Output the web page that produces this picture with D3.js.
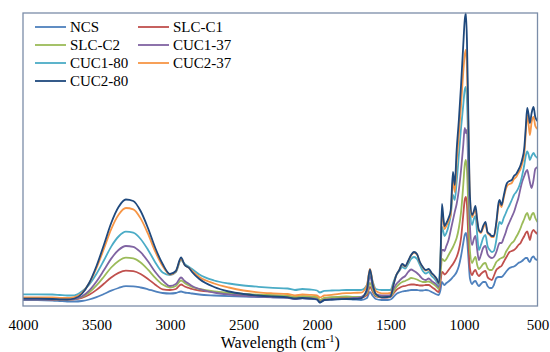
<!DOCTYPE html>
<html><head><meta charset="utf-8">
<script src="https://cdn.jsdelivr.net/npm/d3@7"></script>
<style>body{margin:0;background:#fff}svg{display:block}
svg text{font-family:"Liberation Serif","Times New Roman","DejaVu Serif",serif !important;}</style>
</head><body><svg id="c" width="550" height="352"></svg>
<script>
// Wavenumbers (cm-1), high to low
const wavenumbers = [
 4000,3900,3800,3750,3700,3650,3600,3550,3500,3450,3400,3350,3300,3250,3200,3150,3100,3050,3000,2960,2925,2900,2870,2850,2800,
 2700,2600,2500,2400,2300,2200,2150,2100,2050,2000,1980,1950,1900,1850,1800,
 1750,1700,1660,1640,1620,1600,1560,1520,1500,1480,1460,1440,1420,1400,1380,1360,1340,1320,1300,1280,1260,1240,1220,1200,1185,1172,
 1160,1150,1140,1133,1120,1105,1090,1075,1063,1050,1035,1020,1005,995,987,980,970,960,945,935,922,910,899,885,870,854,840,825,810,797,
 780,765,758,745,730,715,707,690,675,660,645,630,615,605,590,580,570,560,552,540,527,515,500
];
const seriesNames = ["NCS","SLC-C1","SLC-C2","CUC1-37","CUC1-80","CUC2-37","CUC2-80"];
// Intensities (a.u.)
const NCS = [
 6,6,5.5,5,4.5,4.5,5,6.5,8.8,12,15.3,18,19.8,19.7,18.5,16.7,14.7,13,12.5,13,14.5,13.5,13,12.5,11.5,
 10.5,9.8,9.3,9,8.6,8.3,7,7.8,7.5,6.5,3.5,6,6.5,6.7,7,
 6.5,6,8,14,10,7,6,6,6.5,9,12,13.5,14.5,15,15.5,16,16,16,15.5,15.5,16,15.5,14,12.5,11.5,11,
 16,24,22,21,23,24.5,26.5,29,31,34,40,50,63,71,73,68,48,28,22,24,25,22,20,22,24,24,20,18,18,21,
 28,29,29,29,31,34,35.5,38,39,39.5,41,43,44,45,47,48,48,45,44,48,49.5,47,46
];
const SLC_C1 = [
 6.7,6.7,6.5,6.5,6.5,6.7,8.1,11.2,16.1,22.2,28.5,33.1,35.3,34.8,32,27.1,21.3,16.7,16,17,21.5,19.5,18,17,15.5,
 14,12.7,11.7,11,10.4,10,8.7,9.4,9.1,8.4,5.5,7.8,8.4,8.8,9,
 8.5,8.5,11,19,14,9.5,8.5,8.5,9,12.5,16,18,19.5,20,21,21.5,21.5,21,20.5,20.5,21,21,19,17,15,14,
 24,34,33,31.5,33,36,39,42,45,49,56,68,91,106,109,101,66,38,31,34,36,32,30,32,34,35,29,27,26,30,
 36,38,39,40,44,48,50,54,55,56,58,61,63,66,70,73,74.5,70,66,73,76,74,72
];
const SLC_C2 = [
 7,7,6.8,6.7,6.7,7,9,13.5,20.6,29.3,38.5,45.1,48.3,47.6,43.5,36.4,28.1,21.4,18.5,20,25.5,23,20.5,19,17,
 14.5,13,12,11.3,10.8,10.4,9,9.8,9.5,8.8,6,8.2,8.8,9.2,9.5,
 9,9,13,23,16,10.5,9,9,9.5,14,19,22,24,25,26.5,28,27.5,26.5,25,24,24,24.5,23,21,19,17,
 31,47,46,45,47,51,55,59,63,68,78,94,121,141,146,136,96,56,43,46,49,41,37,39,42,43,38,36,36,39,
 44,46,47,48,49,54,56,60,63,65,69,73,78,82,87,91,93,89,86,91,93,88,84
];
const CUC1_37 = [
 7,7,6.8,6.7,6.7,7,9.5,15.4,24.5,35.7,47.4,56,60,59.2,53.8,44.8,34,25.5,20,22,28.5,25,22,20,17,
 13.5,11.5,10.2,9.3,8.7,8.2,7,7.7,7.4,6.7,4,6,6.7,7,7.2,
 8,9,15,30,19,12,10.5,10.5,11,17,22,25,28,30,34,36.5,35,33,30,27,26,27.5,25,23,21,19,
 41,56,56,55,60,66,76,86,94,102,116,136,161,178,173,176,131,81,61,66,70,56,46,51,58,60,52,49,48,49,
 54,61,63,63,68,74,78,84,89,94,101,108,118,124,130,134,136,130,124,118,126,137,139
];
const CUC1_80 = [
 11.7,11.7,11.5,11,10.5,10.7,14.5,21.4,32.2,45.5,59.4,69.5,74.3,73.3,67,56.3,43.6,33.5,31,34,46,42,39,37,31.5,
 25.5,22.5,20.5,19.2,18.2,17.5,16,17,16.5,15.5,13.5,15.2,15.5,15.7,16,
 16,16,21,34.5,24,17,16,16,16,24,31,35,39,37.5,42,47,49,47,41,35,32.5,34,30,27,24,21,
 51,79,74,70,73,80,91,111,106,124,151,178,201,216,219,206,156,101,81,86,90,71,56,61,68,71,60,56,54,55,
 66,81,84,82,88,93,96,101,106,111,114,118,124,130,141,150,154.5,151,146,150,153,150,148
];
const CUC2_37 = [
 8.7,8.7,8.5,8.2,8,8.9,12.9,22.8,38.1,57,76.8,91.2,98,96.6,87.6,72.3,54.3,39.9,31.5,34.5,47,41,38,35,29,
 22.5,18.5,15.5,13.7,12.7,12,10.5,11.5,11.2,10.5,8.5,10.5,11.2,12.2,12.8,
 13.2,13.3,21,37,23,15,12.7,12.7,13,21.5,31,36,41.5,39.5,44.5,50.5,53.5,51.5,43.5,38.5,35.5,36.5,32.5,29.5,26.5,22.5,
 44,96,84,77,80,85,92,126,114,144,171,201,234,251,256,238,176,108,89,92,97,84,75,73,78,82,73,71,69,69,
 82,100,103,99,108,117,120,122,123,127,129,133,137,142,152,172,191,181,171,184,189,180,177
];
const CUC2_80 = [
 7.3,7.3,7,6.7,6.5,7.5,12,23,40,61,83,99,106.5,105,95,78,58,42,32,35,48.5,41,38,34,27,
 19,14.5,12,10.5,9.5,8.7,7.5,8,7.5,6.5,3.5,6,6.5,6.8,7,
 7,7.7,17,36.5,21,12,8.7,9,9.5,21,31,36,42,40,45,51,54,52,44,39,36,37,33,30,27,23,
 46,102,88,80,83,88,96,134,121,156,186,221,261,286,292.5,266,186,111,91,94,100,86,76,74,80,84,74,72,70,70,
 84,103,106,101,110,120,123,125,126,130,132,136,141,146,158,178,198,191,183,193,199,189,185
];
const seriesValues = [NCS, SLC_C1, SLC_C2, CUC1_37, CUC1_80, CUC2_37, CUC2_80];
const colors = ["#4F81BD","#C0504D","#9BBB59","#8064A2","#4BACC6","#F79646","#1F497D"];
const xTicks = [4000,3500,3000,2500,2000,1500,1000,500];

const svg = d3.select("#c");
const m = {left:23, right:537.5, top:13, bottom:306};
const x = d3.scaleLinear().domain([4000,500]).range([m.left, m.right]);
const y = d3.scaleLinear().domain([0,293]).range([m.bottom, m.top]);

const line = d3.line().x(d=>x(d[0])).y(d=>y(d[1])).curve(d3.curveMonotoneX);
const g = svg.append("g");
seriesValues.forEach((vals,i)=>{
  const pts = wavenumbers.map((w,j)=>[w, vals[j]]);
  g.append("path").attr("d", line(pts)).attr("fill","none")
    .attr("stroke", colors[i]).attr("stroke-width",1.8).attr("stroke-linejoin","round");
});

// plot border
svg.append("rect").attr("x",m.left).attr("y",m.top)
  .attr("width",m.right-m.left).attr("height",m.bottom-m.top)
  .attr("fill","none").attr("stroke","#7B8DA8").attr("stroke-width",1.3);

// x axis labels
const ax = svg.append("g").attr("transform",`translate(0,${m.bottom})`)
  .call(d3.axisBottom(x).tickValues(xTicks).tickSize(0).tickPadding(0).tickFormat(d3.format("d")));
ax.attr("font-family",null);
ax.select(".domain").remove();
ax.selectAll("text").attr("y",24).attr("dy",0).attr("font-size","15px").attr("fill","#000");

// axis title
const t = svg.append("text").attr("x",(m.left+m.right)/2).attr("y",348).attr("text-anchor","middle")
  .attr("font-size","16px").attr("fill","#000");
t.append("tspan").text("Wavelength (cm");
t.append("tspan").text("-1").attr("font-size","10.5px").attr("dy",-6);
t.append("tspan").text(")").attr("dy",6);

// legend
const lg = svg.append("g");
seriesNames.forEach((n,i)=>{
  const col = i%2, row = Math.floor(i/2);
  const lx = col===0 ? 35 : 138;
  const cy = 27 + row*18;
  lg.append("line").attr("x1",lx).attr("x2",lx+31).attr("y1",cy).attr("y2",cy)
    .attr("stroke",colors[i]).attr("stroke-width",1.8);
  lg.append("text").attr("x",lx+35).attr("y",cy).attr("dy","0.35em")
    .attr("font-size","15px").attr("fill","#000").text(n);
});
</script></body></html>
